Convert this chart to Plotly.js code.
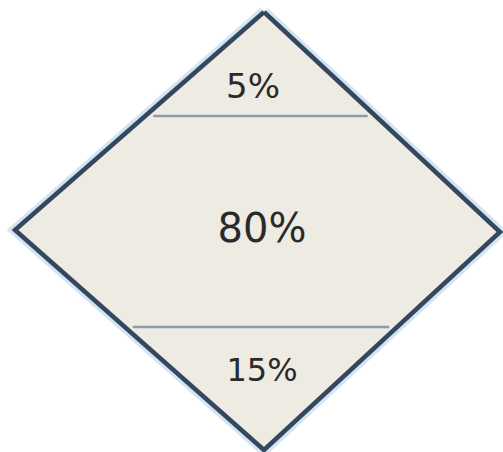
<!DOCTYPE html>
<html>
<head>
<meta charset="utf-8">
<script src="https://cdn.plot.ly/plotly-3.0.1.min.js"></script>
<style>html,body{margin:0;padding:0;background:#fff;}#chart{width:503px;height:452px;}</style>
</head>
<body>
<div id="chart"></div>
<script>
// Diamond outline (top, right, bottom, left, back to top) in drawing units
var diamondX = [264, 500, 264, 15, 264];
var diamondY = [12, 232, 450, 230, 12];

// Segments from top to bottom
var segmentLabels = ["5%", "80%", "15%"];
var segmentShares = [5, 80, 15];
var dividerLevels = [116, 327];            // y of the two dividing lines
var labelX = [253, 262, 262];
var labelY = [89, 232, 373];
var labelSizes = [34, 40, 32];

// compute x of diamond edge at level y (left or right side)
function edgeX(y, side) {
  var top = [diamondX[0], diamondY[0]], right = [diamondX[1], diamondY[1]],
      bottom = [diamondX[2], diamondY[2]], left = [diamondX[3], diamondY[3]];
  var a, b;
  if (side === 'left') {
    if (y <= left[1]) { a = top; b = left; } else { a = left; b = bottom; }
  } else {
    if (y <= right[1]) { a = top; b = right; } else { a = right; b = bottom; }
  }
  var t = (y - a[1]) / (b[1] - a[1]);
  return a[0] + t * (b[0] - a[0]);
}

var inset = 8;
var divX = [], divY = [];
dividerLevels.forEach(function (y) {
  divX.push(edgeX(y, 'left') + inset, edgeX(y, 'right') - inset, null);
  divY.push(y, y, null);
});

var traces = [
  { // soft glow around the border
    x: diamondX, y: diamondY, mode: 'lines', hoverinfo: 'skip',
    line: { color: '#d3e5f3', width: 11, shape: 'linear' }
  },
  { // filled diamond
    x: diamondX, y: diamondY, mode: 'lines', fill: 'toself',
    fillcolor: '#eeebe2', hoverinfo: 'skip',
    line: { color: '#34475e', width: 4.5 }
  },
  { // divider lines
    x: divX, y: divY, mode: 'lines', hoverinfo: 'skip',
    line: { color: '#8a9bab', width: 2.5 }
  },
  { // labels
    x: labelX, y: labelY, mode: 'text',
    text: segmentLabels, customdata: segmentShares,
    textposition: 'middle center',
    textfont: { family: 'DejaVu Sans, Verdana, sans-serif', size: labelSizes, color: '#2a2a2a' },
    hovertemplate: '%{customdata}%<extra></extra>'
  }
];

var layout = {
  width: 503, height: 452,
  margin: { l: 0, r: 0, t: 0, b: 0 },
  paper_bgcolor: '#ffffff', plot_bgcolor: '#ffffff',
  showlegend: false,
  xaxis: { range: [0, 503], visible: false, fixedrange: true },
  yaxis: { range: [452, 0], visible: false, fixedrange: true }
};

Plotly.newPlot('chart', traces, layout, { displayModeBar: false, staticPlot: true });
</script>
</body>
</html>
